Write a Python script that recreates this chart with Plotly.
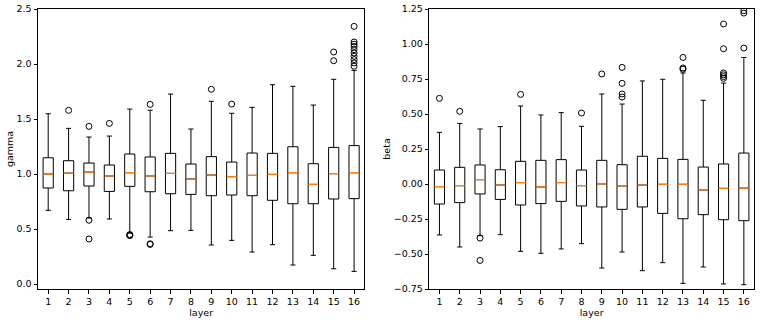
import plotly.graph_objects as go
from plotly.subplots import make_subplots

layers = list(range(1, 17))

# gamma per layer (left panel)
gamma_q1 = [0.873, 0.848, 0.891, 0.842, 0.888, 0.839, 0.821, 0.815, 0.803, 0.809, 0.803, 0.761, 0.730, 0.730, 0.773, 0.776]
gamma_med = [1.000, 1.009, 1.018, 0.982, 1.012, 0.982, 1.006, 0.955, 0.991, 0.976, 0.988, 0.997, 1.012, 0.906, 1.003, 1.012]
gamma_q3 = [1.148, 1.121, 1.100, 1.082, 1.182, 1.155, 1.188, 1.091, 1.158, 1.109, 1.191, 1.188, 1.248, 1.094, 1.242, 1.258]
gamma_lo = [0.670, 0.588, 0.600, 0.591, 0.464, 0.427, 0.485, 0.488, 0.355, 0.397, 0.291, 0.358, 0.173, 0.261, 0.139, 0.115]
gamma_hi = [1.548, 1.415, 1.336, 1.345, 1.590, 1.580, 1.727, 1.409, 1.661, 1.552, 1.606, 1.812, 1.797, 1.627, 1.861, 1.942]
gamma_out_layer = [2, 3, 3, 3, 4, 5, 5, 5, 6, 6, 6, 9, 10, 15, 15,
                   16, 16, 16, 16, 16, 16, 16, 16, 16, 16]
gamma_out_val = [1.579, 1.433, 0.58, 0.41, 1.46, 0.45, 0.445, 0.44, 1.633, 0.366, 0.36, 1.77, 1.636, 2.109, 2.03,
                 2.342, 2.20, 2.18, 2.16, 2.13, 2.10, 2.07, 2.04, 2.01, 1.98]

# beta per layer (right panel)
beta_q1 = [-0.143, -0.133, -0.071, -0.110, -0.150, -0.140, -0.124, -0.157, -0.164, -0.181, -0.164, -0.210, -0.248, -0.219, -0.255, -0.262]
beta_med = [-0.019, -0.012, 0.031, -0.007, 0.010, -0.021, 0.010, -0.012, 0.000, -0.014, -0.007, -0.002, -0.002, -0.043, -0.031, -0.029]
beta_q3 = [0.100, 0.119, 0.136, 0.102, 0.162, 0.169, 0.174, 0.100, 0.169, 0.138, 0.198, 0.183, 0.176, 0.121, 0.143, 0.221]
beta_lo = [-0.364, -0.450, -0.369, -0.362, -0.481, -0.495, -0.464, -0.426, -0.600, -0.486, -0.619, -0.562, -0.710, -0.593, -0.714, -0.719]
beta_hi = [0.369, 0.433, 0.393, 0.410, 0.557, 0.493, 0.510, 0.412, 0.643, 0.571, 0.736, 0.748, 0.793, 0.598, 0.721, 0.904]
beta_out_layer = [1, 2, 3, 3, 5, 8, 9, 10, 10, 10, 10, 13, 13, 13,
                  15, 15, 15, 15, 15, 15, 16, 16, 16]
beta_out_val = [0.612, 0.519, -0.386, -0.546, 0.640, 0.507, 0.786, 0.833, 0.719, 0.643, 0.621, 0.904, 0.829, 0.820,
                1.143, 0.966, 0.793, 0.780, 0.767, 0.755, 1.238, 1.221, 0.971]

BOXW = 0.5
FONT = dict(family="DejaVu Sans", size=9.5, color="black")

fig = make_subplots(rows=1, cols=2)


def add_panel(fig, col, q1, med, q3, lo, hi, out_x, out_y):
    fig.add_trace(go.Box(
        x=layers, q1=q1, median=med, q3=q3, lowerfence=lo, upperfence=hi,
        width=BOXW, whiskerwidth=0.5, boxpoints=False,
        fillcolor="rgba(0,0,0,0)", line=dict(color="black", width=1),
        showlegend=False), row=1, col=col)
    # orange median lines drawn on top
    mx, my = [], []
    for x, m in zip(layers, med):
        mx += [x - BOXW / 2, x + BOXW / 2, None]
        my += [m, m, None]
    fig.add_trace(go.Scatter(x=mx, y=my, mode="lines",
                             line=dict(color="#ff7f0e", width=1.2),
                             showlegend=False), row=1, col=col)
    fig.add_trace(go.Scatter(x=out_x, y=out_y, mode="markers",
                             marker=dict(symbol="circle-open", size=6, color="black",
                                         line=dict(width=1, color="black")),
                             showlegend=False), row=1, col=col)


add_panel(fig, 1, gamma_q1, gamma_med, gamma_q3, gamma_lo, gamma_hi, gamma_out_layer, gamma_out_val)
add_panel(fig, 2, beta_q1, beta_med, beta_q3, beta_lo, beta_hi, beta_out_layer, beta_out_val)

axis_style = dict(showline=True, mirror=True, linecolor="black", linewidth=1,
                  ticks="outside", ticklen=3.5, tickwidth=0.8, tickcolor="black",
                  showgrid=False, zeroline=False, tickfont=FONT, automargin=False)

fig.update_xaxes(axis_style, range=[0.5, 16.5], tickvals=layers,
                 title=dict(text="layer", font=FONT, standoff=1))
fig.update_xaxes(domain=[0.0, 0.4557], row=1, col=1)
fig.update_xaxes(domain=[0.5465, 1.0], row=1, col=2)

fig.update_yaxes(axis_style)
fig.update_yaxes(range=[-0.045, 2.5], tickvals=[0.0, 0.5, 1.0, 1.5, 2.0, 2.5], tickformat=".1f",
                 title=dict(text="gamma", font=FONT, standoff=1), row=1, col=1)
fig.update_yaxes(range=[-0.75, 1.25], tickvals=[-0.75, -0.5, -0.25, 0.0, 0.25, 0.5, 0.75, 1.0, 1.25],
                 tickformat=".2f", title=dict(text="beta", font=FONT, standoff=1), row=1, col=2)

fig.update_layout(width=761, height=323, margin=dict(l=38, r=7, t=9, b=34),
                  plot_bgcolor="white", paper_bgcolor="white", font=FONT)

# page body has a default 8px margin; drop it so the figure sits at the window corner
fig.write_html("out.html", config={"displayModeBar": False},
               post_script="document.body.style.margin='0';")
